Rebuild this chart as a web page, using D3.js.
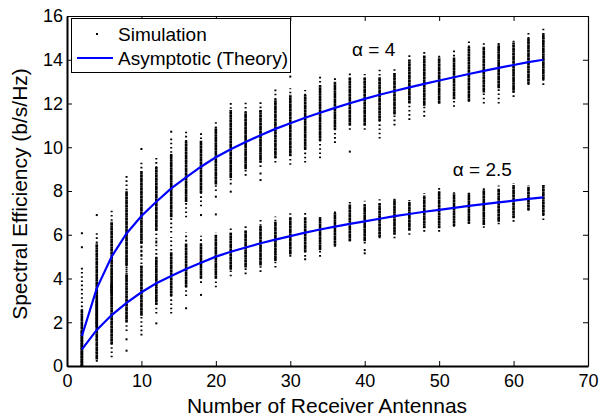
<!DOCTYPE html>
<html>
<head>
<meta charset="utf-8">
<script src="https://cdn.jsdelivr.net/npm/d3@7"></script>
<style>
  html, body { margin: 0; padding: 0; background: #fff; }
  svg { display: block; font-family: "Liberation Sans", Arial, sans-serif; }
</style>
</head>
<body>
<svg id="chart" width="602" height="419"></svg>
<script>
// ---- data ----
const antennas = [2,4,6,8,10,12,14,16,18,20,22,24,26,28,30,32,34,36,38,40,42,44,46,48,50,52,54,56,58,60,62,64];

// Asymptotic (Theory) curves
const theoryA4 = [1.37,3.55,5.0,6.06,6.86,7.51,8.12,8.62,9.11,9.54,9.91,10.24,10.55,10.84,11.10,11.35,11.58,11.80,12.01,12.21,12.40,12.57,12.74,12.90,13.05,13.20,13.35,13.49,13.63,13.76,13.89,14.0];
const theoryA25 = [0.76,1.65,2.33,2.89,3.37,3.78,4.11,4.43,4.72,5.0,5.22,5.42,5.61,5.78,5.94,6.10,6.24,6.37,6.50,6.61,6.73,6.85,6.95,7.05,7.14,7.23,7.32,7.40,7.48,7.56,7.64,7.71];

// Simulation clouds per column: [min, denseLow, denseHigh, max]
const simA4 = [
  [0,0,2.6,4.6],[1.2,1.8,5.6,6.1],[2.8,3.3,6.6,7.2],[4.0,4.6,8.0,8.8],[5.0,5.6,8.9,9.3],
  [5.6,6.2,9.1,9.54],[6.1,6.8,9.7,10.4],[6.8,7.5,10.3,10.71],[7.3,7.9,10.3,10.64],[8.0,8.3,10.9,11.17],
  [8.3,8.6,11.7,12.08],[8.7,9.0,11.6,12.04],[9.1,9.3,11.7,12.08],[9.3,9.5,12.2,12.69],[9.2,9.6,12.4,12.7],
  [9.3,9.9,12.4,12.62],[9.5,10.3,12.85,13.3],[10.2,10.8,13.0,13.23],[10.8,11.0,13.2,13.41],[10.8,11.0,13.2,13.35],
  [10.4,11.2,13.2,13.6],[11.0,11.5,13.4,13.68],[11.25,12.0,14.0,14.25],[11.4,11.9,14.2,14.37],[12.0,12.0,14.1,14.22],
  [11.85,12.2,14.1,14.45],[12.08,12.1,14.6,14.83],[12.0,12.5,14.6,14.75],[12.0,12.7,14.7,14.86],[12.3,12.5,14.8,14.95],
  [12.85,12.9,15.0,15.28],[12.85,13.1,15.2,15.51]
];
const simA25 = [
  [0,0,1.6,2.5],[0.2,0.3,3.0,3.6],[0.4,1.0,3.8,4.4],[1.6,2.0,4.2,5.0],[1.4,2.3,4.6,5.8],
  [2.4,2.8,5.0,5.8],[2.4,3.2,5.2,5.9],[3.2,3.6,5.6,6.1],[3.8,4.0,5.6,5.95],[3.6,4.0,6.0,6.1],
  [4.1,4.4,6.1,6.29],[4.2,4.5,6.2,6.45],[4.3,4.6,6.4,6.75],[4.5,4.8,6.6,6.83],[5.0,5.1,6.8,6.98],
  [5.0,5.2,6.8,7.0],[5.0,5.3,6.8,6.9],[5.45,5.5,7.0,7.13],[5.7,5.7,7.4,7.51],[5.6,5.7,7.4,7.56],
  [5.84,5.9,7.44,7.62],[5.84,6.0,7.6,7.7],[6.0,6.2,7.5,7.59],[6.14,6.3,7.8,7.9],[6.14,6.3,8.0,8.25],
  [6.37,6.4,7.9,7.94],[6.5,6.5,7.9,8.0],[6.32,6.45,8.05,8.15],[6.48,6.6,8.1,8.25],[6.6,6.75,8.27,8.35],
  [7.1,7.13,8.2,8.27],[6.67,6.9,8.27,8.35]
];
// Isolated simulation points [antennas, value]
const outliers = [
  [2,5.43],[2,6.07],[4,6.9],[10,9.92],[14,10.71],[18,6.9],[20,7.74],[20,6.93],[22,7.97],[26,8.5],[26,8.8],
  [30,13.23],[38,9.8],
  [8,1.22],[8,0.7],[12,1.95],[16,2.64],[18,3.25],[32,4.88],[40,5.3],[40,5.15]
];

const xTicks = [0,10,20,30,40,50,60,70];
const yTicks = [0,2,4,6,8,10,12,14,16];
const labels = { x: "Number of Receiver Antennas", y: "Spectral Efficiency (b/s/Hz)" };
const annotations = [ { text: "\u03B1 = 4", x: 41.2, y: 14.17 }, { text: "\u03B1 = 2.5", x: 55.8, y: 8.69 } ];
const legendItems = ["Simulation", "Asymptotic (Theory)"];

// ---- drawing ----
const svg = d3.select("#chart");
const x = d3.scaleLinear().domain([0,70]).range([67,588]);
const y = d3.scaleLinear().domain([0,16]).range([366,16]);

svg.append("defs").append("clipPath").attr("id","clip")
  .append("rect").attr("x",67).attr("y",16).attr("width",521).attr("height",350);

const plot = svg.append("g").attr("clip-path","url(#clip)");

function drawCloud(sim) {
  const g = plot.append("g");
  // sparse tails
  g.selectAll("line.sparse").data(sim).join("line")
    .attr("x1",(d,i)=>x(antennas[i])).attr("x2",(d,i)=>x(antennas[i]))
    .attr("y1",d=>y(d[0])).attr("y2",d=>y(d[3]))
    .attr("stroke","#000").attr("stroke-width",2).attr("stroke-dasharray","1.6 2.6");
  // dense core
  g.selectAll("line.dense").data(sim).join("line")
    .attr("x1",(d,i)=>x(antennas[i])).attr("x2",(d,i)=>x(antennas[i]))
    .attr("y1",d=>y(d[1])).attr("y2",d=>y(d[2]))
    .attr("stroke","#000").attr("stroke-width",2.6).attr("stroke-dasharray","2.4 0.25");
}
drawCloud(simA4);
drawCloud(simA25);

plot.append("g").selectAll("rect").data(outliers).join("rect")
  .attr("x",d=>x(d[0])-1).attr("y",d=>y(d[1])-1).attr("width",2).attr("height",2).attr("fill","#000");

const line = d3.line().x((d,i)=>x(antennas[i])).y(d=>y(d));
[theoryA4, theoryA25].forEach(s => {
  plot.append("path").datum(s).attr("d",line)
    .attr("fill","none").attr("stroke","#0000ff").attr("stroke-width",2.2);
});

// axes
const fs = 18;
const gx = svg.append("g").attr("transform","translate(0,366)")
  .call(d3.axisBottom(x).tickValues(xTicks).tickSize(-5).tickSizeOuter(0).tickPadding(8));
const gy = svg.append("g").attr("transform","translate(67,0)")
  .call(d3.axisLeft(y).tickValues(yTicks).tickSize(-5).tickSizeOuter(0).tickPadding(4));
const gxt = svg.append("g").attr("transform","translate(0,16)")
  .call(d3.axisTop(x).tickValues(xTicks).tickSize(-5).tickSizeOuter(0).tickFormat(""));
const gyr = svg.append("g").attr("transform","translate(588,0)")
  .call(d3.axisRight(y).tickValues(yTicks).tickSize(-5).tickSizeOuter(0).tickFormat(""));
[gx,gy,gxt,gyr].forEach(g => {
  g.selectAll("text").attr("font-size",fs).attr("fill","#000").attr("font-family","Liberation Sans, Arial, sans-serif");
  g.selectAll("line").attr("stroke","#000");
  g.select(".domain").attr("stroke","#000");
});
gx.select(".domain").attr("stroke-width",2);
gy.select(".domain").attr("stroke-width",2);
gxt.select(".domain").attr("stroke-width",1.2);
gyr.select(".domain").attr("stroke-width",1.2);

// axis labels
svg.append("text").attr("x",327).attr("y",413).attr("text-anchor","middle")
  .attr("font-size",21).text(labels.x);
svg.append("text").attr("transform","translate(27,194) rotate(-90)").attr("text-anchor","middle")
  .attr("font-size",21).text(labels.y);

// annotations
annotations.forEach(a => {
  svg.append("text").attr("x",x(a.x)).attr("y",y(a.y)).attr("text-anchor","middle")
    .attr("font-size",19).text(a.text);
});

// legend
const lg = svg.append("g");
lg.append("rect").attr("x",71.5).attr("y",18.5).attr("width",219).attr("height",54)
  .attr("fill","#fff").attr("stroke","#000").attr("stroke-width",1);
lg.append("rect").attr("x",96).attr("y",33).attr("width",2).attr("height",2).attr("fill","#000");
lg.append("line").attr("x1",77).attr("x2",113).attr("y1",58).attr("y2",58)
  .attr("stroke","#0000ff").attr("stroke-width",2.2);
lg.append("text").attr("x",118).attr("y",41).attr("font-size",19).text(legendItems[0]);
lg.append("text").attr("x",118).attr("y",65).attr("font-size",19).text(legendItems[1]);
</script>
</body>
</html>
